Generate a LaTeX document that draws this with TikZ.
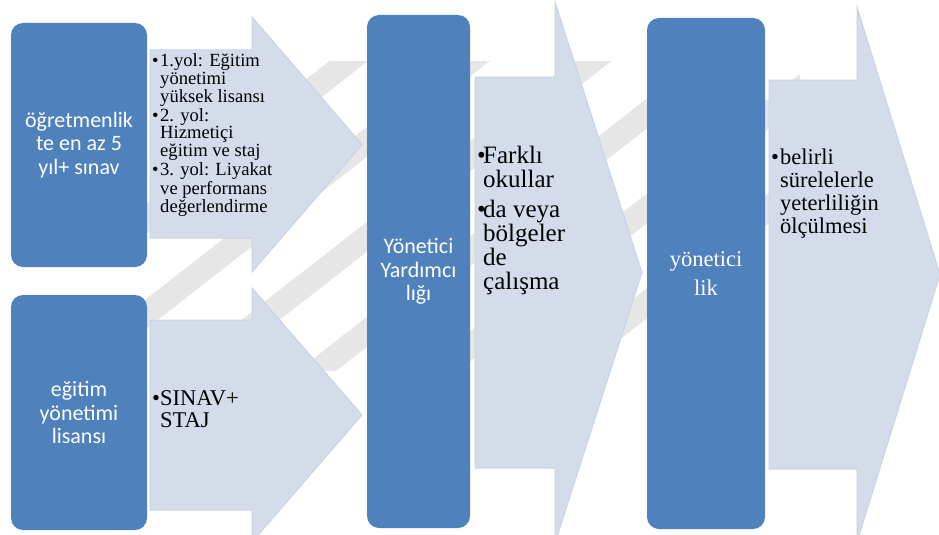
\documentclass[tikz,border=0pt]{standalone}
\usepackage{fontspec}
\setmainfont{Liberation Serif}
\newfontfamily\boxfont{Carlito}

\definecolor{boxblue}{HTML}{4F81BD}
\definecolor{arrowfill}{HTML}{D4DCE9}
\definecolor{arrowedge}{HTML}{C8D3E6}
\definecolor{wmgray}{HTML}{E6E6E6}

\tikzset{
	stagebox/.style={fill=boxblue, rounded corners=12pt, text=white, align=center, inner sep=0pt,
		font=\boxfont\fontsize{22}{23.5}\selectfont},
	flowarrow/.style={fill=arrowfill, draw=arrowedge, line width=1pt, line join=miter},
	bullettext/.style={anchor=base west, inner sep=0pt, text=black},
}

\begin{document}
\begin{tikzpicture}[x=1pt, y=-1pt]
	\useasboundingbox (0,0) rectangle (939,535);
	\clip (0,0) rectangle (939,535);
	
	%watermark stripes
		\begin{scope}
			\clip (143,62) rectangle (800,370);
			\foreach \c in {318, 413, ..., 793}{
				\fill[wmgray] (100,\c-78) -- (900,\c-702) -- (900,\c-672) -- (100,\c-48) -- cycle;
			}
		\end{scope}
	
	%arrows
		\filldraw[flowarrow] (150,50) -- (252,50) -- (252,17) -- (362,144.5) -- (252,272) -- (252,238) -- (150,238) -- cycle;
		\filldraw[flowarrow] (150,320) -- (252,320) -- (252,288) -- (362,415) -- (252,542) -- (252,510) -- (150,510) -- cycle;
		\filldraw[flowarrow] (475,77) -- (555,77) -- (555,2) -- (642,272.5) -- (555,543) -- (555,468) -- (475,468) -- cycle;
		\filldraw[flowarrow] (769,80) -- (857,80) -- (857,7) -- (940,274.5) -- (857,542) -- (857,469) -- (769,469) -- cycle;
	
	%stages
		\node[stagebox, minimum width=136pt, minimum height=244pt] (ogretmen) at (79,145) {öğretmenlik\\te en az 5\\yıl+ sınav};
		\node[stagebox, minimum width=136pt, minimum height=235pt] (lisans) at (79,412.5) {eğitim\\yönetimi\\lisansı};
		\node[stagebox, minimum width=103pt, minimum height=513pt] (yardimci) at (418.5,271.5) {Yönetici\\Yardımcı\\lığı};
		\node[stagebox, minimum width=118pt, minimum height=511pt, font=\rmfamily\fontsize{22.5}{29}\selectfont] (yonetici) at (706,273.5) {yönetici\\lik};
	
	%bullet texts
		\node[bullettext, font=\fontsize{18.6}{17.3}\selectfont] (yollar) at (152,66.7) {%
			\begin{tabular}[t]{@{}p{8pt}@{}l@{}}
				\textbullet & 1.yol: Eğitim\\ & yönetimi\\ & yüksek lisansı\\[1pt]
				\textbullet & 2. yol:\\ & Hizmetiçi\\ & eğitim ve staj\\[1pt]
				\textbullet & 3. yol: Liyakat\\ & ve performans\\ & değerlendirme
			\end{tabular}};
		\node[bullettext, font=\fontsize{22.5}{22}\selectfont] (sinav) at (152,405) {%
			\begin{tabular}[t]{@{}p{8pt}@{}l@{}}
				\textbullet & SINAV+\\ & STAJ
			\end{tabular}};
		\node[bullettext, font=\fontsize{25}{22.8}\selectfont] (okullar) at (477,163) {%
			\begin{tabular}[t]{@{}p{6pt}@{}l@{}}
				\textbullet & Farklı\\ & okullar\\[5.8pt]
				\textbullet & da veya\\ & bölgeler\\ & de\\ & çalışma
			\end{tabular}};
		\node[bullettext, font=\fontsize{22.5}{23.2}\selectfont] (olcme) at (771,164) {%
			\begin{tabular}[t]{@{}p{9pt}@{}l@{}}
				\textbullet & belirli\\ & sürelelerle\\ & yeterliliğin\\ & ölçülmesi
			\end{tabular}};
\end{tikzpicture}
\end{document}
